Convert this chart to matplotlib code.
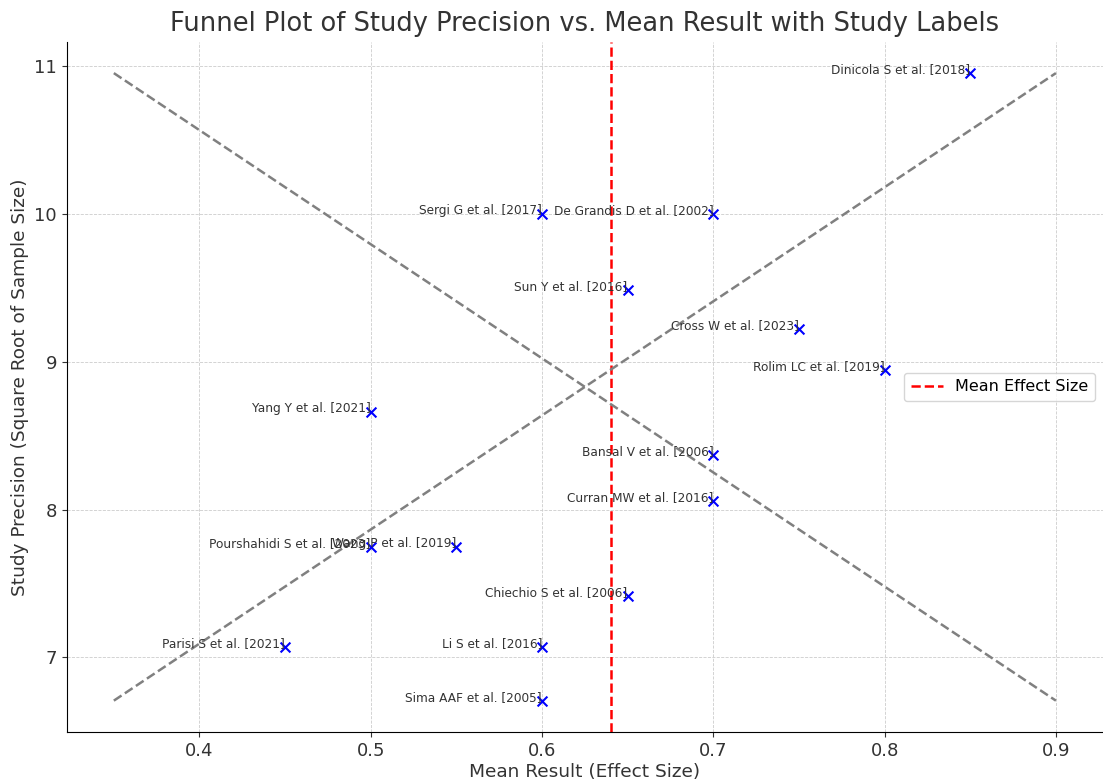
import matplotlib.pyplot as plt

studies = ['Dinicola S et al. [2018]', 'Sergi G et al. [2017]', 'De Grandis D et al. [2002]',
           'Sun Y et al. [2016]', 'Cross W et al. [2023]', 'Rolim LC et al. [2019]',
           'Yang Y et al. [2021]', 'Bansal V et al. [2006]', 'Curran MW et al. [2016]',
           'Pourshahidi S et al. [2023]', 'Wang P et al. [2019]', 'Chiechio S et al. [2006]',
           'Parisi S et al. [2021]', 'Li S et al. [2016]', 'Sima AAF et al. [2005]']
mean_result = [0.85, 0.60, 0.70, 0.65, 0.75, 0.80, 0.50, 0.70, 0.70, 0.50, 0.55, 0.65, 0.45, 0.60, 0.60]
precision = [10.954, 10.0, 10.0, 9.487, 9.220, 8.944, 8.660, 8.367, 8.062, 7.746, 7.746, 7.416,
             7.071, 7.071, 6.708]

mean_effect = sum(mean_result) / len(mean_result)
funnel_x = [0.35, 0.90]
funnel_lo = [6.708, 10.954]
funnel_hi = [10.954, 6.708]

fig = plt.figure(figsize=(11.03, 7.8), dpi=100)
ax = fig.add_axes([0.0605, 0.0615, 0.9395, 0.885])

ax.scatter(mean_result, precision, marker='x', color='blue', s=50, zorder=3)
for name, x, y in zip(studies, mean_result, precision):
    ax.text(x, y, name, fontsize=8.7, ha='right', color='#333333')

ax.axvline(mean_effect, color='red', linestyle='--', linewidth=1.8, label='Mean Effect Size')
ax.plot(funnel_x, funnel_hi, color='gray', linestyle='--', linewidth=1.8)
ax.plot(funnel_x, funnel_lo, color='gray', linestyle='--', linewidth=1.8)

ax.set_title('Funnel Plot of Study Precision vs. Mean Result with Study Labels', fontsize=18.5,
             color='#333333', pad=8)
ax.set_xlabel('Mean Result (Effect Size)', fontsize=13.3, color='#333333', labelpad=2)
ax.set_ylabel('Study Precision (Square Root of Sample Size)', fontsize=13.3, color='#333333',
              labelpad=4)
ax.tick_params(labelsize=13, colors='#333333')
ax.grid(True, linestyle='--', linewidth=0.6, color='#cccccc')
ax.spines['top'].set_visible(False)
ax.spines['right'].set_visible(False)
ax.legend(loc='center right', fontsize=11.5)

fig.savefig('out.png', dpi=100)
